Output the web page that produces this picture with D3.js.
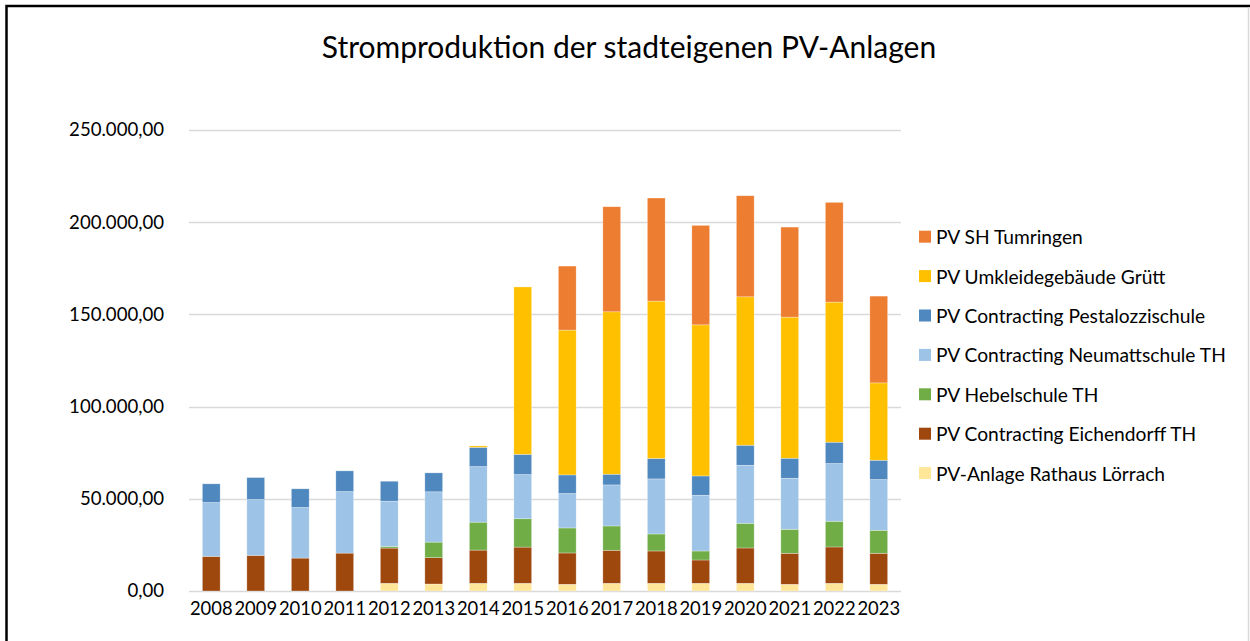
<!DOCTYPE html>
<html>
<head>
<meta charset="utf-8">
<script src="https://cdn.jsdelivr.net/npm/d3@7"></script>
<style>
  body { margin: 0; background: #fff; }
  text { font-family: Lato, "Open Sans", sans-serif; fill: #000; }
</style>
</head>
<body>
<div id="chart"></div>
<script>
// data
var years = ["2008", "2009", "2010", "2011", "2012", "2013", "2014", "2015",
             "2016", "2017", "2018", "2019", "2020", "2021", "2022", "2023"];

var rathaus     = [0, 0, 0, 0, 4180, 3790, 4170, 4170, 3640, 4180, 4180, 4180, 4180, 3640, 4180, 3640];
var eichendorff = [18780, 19320, 17860, 20560, 19100, 14290, 18020, 19640, 16990, 17910, 17530, 12640, 19160, 16820, 19700, 16820];
var hebel       = [0, 0, 0, 0, 920, 8440, 15150, 15370, 13570, 13190, 9230, 4880, 13400, 13020, 13950, 12480];
var neumatt     = [29220, 30300, 27440, 33390, 24510, 27270, 30140, 23970, 18670, 22250, 29850, 30230, 31470, 27680, 31310, 27510];
var pestalozzi  = [10120, 11900, 10120, 11200, 10820, 10280, 10440, 10990, 10090, 5810, 11070, 10470, 10850, 10850, 11560, 10470];
var gruett      = [0, 0, 0, 0, 0, 0, 760, 90750, 78520, 88070, 85360, 81940, 80480, 76510, 75970, 41950];
var tumringen   = [0, 0, 0, 0, 0, 0, 0, 0, 34730, 56980, 55890, 53940, 54810, 48840, 54100, 47050];

var seriesNames = ["PV-Anlage Rathaus Lörrach", "PV Contracting Eichendorff TH", "PV Hebelschule TH",
                   "PV Contracting Neumattschule TH", "PV Contracting Pestalozzischule",
                   "PV Umkleidegebäude Grütt", "PV SH Tumringen"];
var seriesValues = [rathaus, eichendorff, hebel, neumatt, pestalozzi, gruett, tumringen];
var colors = ["#FFE699", "#9E480E", "#70AD47", "#9DC3E6", "#4E88BE", "#FFC000", "#ED7D31"];

var yTicks = [0, 50000, 100000, 150000, 200000, 250000];

var svgWidth = 1250;
var svgHeight = 641;

var plot = { left: 189, right: 901, top: 130, bottom: 591 };

var svg = d3.select("#chart")
    .append("svg")
    .attr("width", svgWidth)
    .attr("height", svgHeight);

// frame
svg.append("path")
    .attr("d", "M6.5,641 V6 H1250")
    .attr("fill", "none")
    .attr("stroke", "#000")
    .attr("stroke-width", 2.5);
svg.append("line")
    .attr("x1", 1248.5).attr("x2", 1248.5)
    .attr("y1", 7).attr("y2", 641)
    .attr("stroke", "#d9d9d9")
    .attr("stroke-width", 1.5);

// title
svg.append("text")
    .attr("x", 629)
    .attr("y", 46)
    .attr("text-anchor", "middle")
    .attr("dominant-baseline", "central")
    .attr("font-size", "30px")
    .text("Stromproduktion der stadteigenen PV-Anlagen");

// table for the stack
var table = years.map(function(y, i) {
    var row = { year: y };
    seriesNames.forEach(function(n, k) { row[n] = seriesValues[k][i]; });
    return row;
});
var stacked = d3.stack().keys(seriesNames)(table);

var xScale = d3.scaleBand()
    .domain(years)
    .range([plot.left, plot.right])
    .paddingInner(0.6)
    .paddingOuter(0.3);

var yScale = d3.scaleLinear()
    .domain([0, 250000])
    .range([plot.bottom, plot.top]);

var de = d3.formatLocale({ decimal: ",", thousands: ".", grouping: [3], currency: ["", " €"] });
var fmt = de.format(",.2f");

// gridlines
svg.append("g")
    .selectAll("line")
    .data(yTicks)
    .enter()
    .append("line")
    .attr("x1", plot.left)
    .attr("x2", plot.right)
    .attr("y1", d => Math.round(yScale(d)) + 0.5)
    .attr("y2", d => Math.round(yScale(d)) + 0.5)
    .attr("stroke", "#d9d9d9")
    .attr("stroke-width", 1.3);

// y axis labels
var yAxis = d3.axisLeft(yScale).tickValues(yTicks).tickFormat(fmt).tickSize(0).tickPadding(25);
var yG = svg.append("g")
    .attr("transform", `translate(${plot.left}, 0)`)
    .call(yAxis);
yG.select(".domain").remove();
yG.selectAll("text")
    .attr("font-size", "18.6px")
    .attr("font-family", "Lato, sans-serif");

// bars
svg.append("g")
    .selectAll("g")
    .data(stacked)
    .enter()
    .append("g")
    .attr("fill", (d, i) => colors[i])
    .selectAll("rect")
    .data(d => d)
    .enter()
    .append("rect")
    .attr("x", d => xScale(d.data.year))
    .attr("width", xScale.bandwidth())
    .attr("y", d => yScale(d[1]))
    .attr("height", d => yScale(d[0]) - yScale(d[1]))
    .attr("stroke", "#fff")
    .attr("stroke-opacity", 0.5)
    .attr("stroke-width", 0.6);

// x axis labels
var xAxis = d3.axisBottom(xScale).tickSize(0).tickPadding(11);
var xG = svg.append("g")
    .attr("transform", `translate(0, ${plot.bottom})`)
    .call(xAxis);
xG.select(".domain").remove();
xG.selectAll("text")
    .attr("font-size", "18.4px")
    .attr("font-family", "Lato, sans-serif");

// legend, top entry is the top of the stack
var legend = svg.append("g")
    .selectAll("g")
    .data(seriesNames.slice().reverse())
    .enter()
    .append("g")
    .attr("transform", (d, i) => `translate(919, ${236.7 + i * 39.4})`);

legend.append("rect")
    .attr("x", 0)
    .attr("y", -6)
    .attr("width", 12)
    .attr("height", 12)
    .attr("fill", d => colors[seriesNames.indexOf(d)]);

legend.append("text")
    .attr("x", 17)
    .attr("y", 0)
    .attr("dominant-baseline", "central")
    .attr("font-size", "19.2px")
    .text(d => d);
</script>
</body>
</html>
